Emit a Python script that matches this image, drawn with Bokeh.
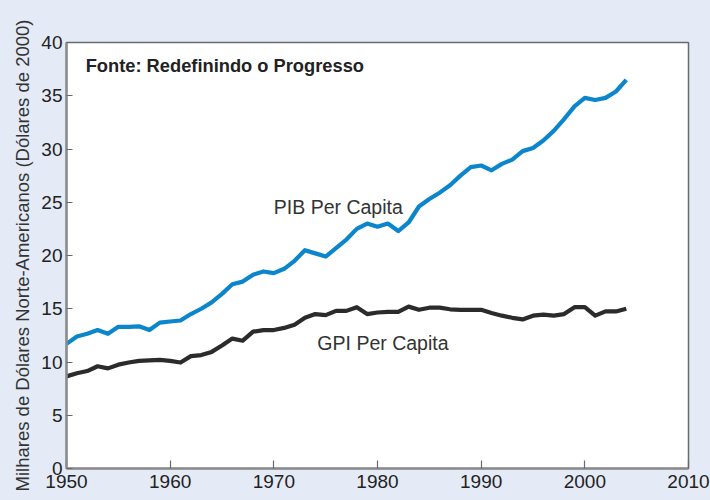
from bokeh.plotting import figure
from bokeh.models import FixedTicker, Label, GlobalInlineStyleSheet
from bokeh.embed import file_html
from bokeh.resources import INLINE

years = list(range(1950, 2005))
pib = [11.7, 12.4, 12.65, 13.0, 12.65, 13.3, 13.3, 13.35, 13.0, 13.7,
       13.8, 13.9, 14.5, 15.0, 15.6, 16.4, 17.3, 17.55, 18.2, 18.5,
       18.35, 18.75, 19.5, 20.5, 20.2, 19.9, 20.7, 21.5, 22.5, 23.0,
       22.7, 23.0, 22.3, 23.1, 24.6, 25.3, 25.9, 26.6, 27.5, 28.3,
       28.45, 28.0, 28.6, 29.0, 29.8, 30.1, 30.8, 31.7, 32.8, 34.0,
       34.8, 34.6, 34.8, 35.4, 36.5]
gpi = [8.65, 8.95, 9.15, 9.6, 9.4, 9.75, 9.95, 10.1, 10.15, 10.2,
       10.1, 9.95, 10.55, 10.65, 10.95, 11.55, 12.2, 12.0, 12.85, 13.0,
       13.0, 13.2, 13.5, 14.15, 14.5, 14.4, 14.8, 14.8, 15.15, 14.5,
       14.65, 14.7, 14.7, 15.2, 14.9, 15.1, 15.1, 14.95, 14.9, 14.9,
       14.9, 14.6, 14.35, 14.15, 14.0, 14.35, 14.45, 14.35, 14.5, 15.15,
       15.15, 14.35, 14.75, 14.75, 15.0]

x_ticks = [1950, 1960, 1970, 1980, 1990, 2000, 2010]
y_ticks = [0, 5, 10, 15, 20, 25, 30, 35, 40]

series_labels = ["PIB Per Capita", "GPI Per Capita"]
label_x = [1970.0, 1974.2]
label_y = [24.6, 11.75]
source_text = "Fonte: Redefinindo o Progresso"
y_title = "Milhares de Dólares Norte-Americanos (Dólares de 2000)"

BG = "#E5EBF6"
BLUE = "#0B86CC"
DARK = "#2B2B2B"

css = GlobalInlineStyleSheet(css=f"html, body {{ margin: 0; padding: 0; background: {BG}; overflow: hidden; }}")

p = figure(width=710, height=500, output_backend="svg", toolbar_location=None,
           x_range=(1950, 2010), y_range=(0, 40),
           min_border_left=66, min_border_top=42, min_border_right=22, min_border_bottom=32)
p.stylesheets = [css]
p.background_fill_color = "white"
p.border_fill_color = BG
p.outline_line_color = "#6A6A6A"
p.outline_line_width = 1.5
p.grid.visible = False

p.line(years, pib, line_color=BLUE, line_width=4.2, line_join="round")
p.line(years, gpi, line_color=DARK, line_width=4.2, line_join="round")

for t, lx, ly in zip(series_labels, label_x, label_y):
    p.add_layout(Label(x=lx, y=ly, text=t, text_font="Liberation Sans",
                       text_font_size="19.5px", text_color="#333333",
                       text_baseline="alphabetic", text_align="left"))

p.add_layout(Label(x=1951.85, y=37.85, text=source_text, text_font="Liberation Sans",
                   text_font_style="bold", text_font_size="18.3px", text_color="#222222",
                   text_baseline="alphabetic", text_align="left"))

p.xaxis.ticker = FixedTicker(ticks=x_ticks)
p.yaxis.ticker = FixedTicker(ticks=y_ticks)
for ax in (p.xaxis[0], p.yaxis[0]):
    ax.axis_line_color = "#8C8C8C"
    ax.axis_line_width = 2.5
    ax.major_tick_line_color = "#6A6A6A"
    ax.major_tick_line_width = 1.2
    ax.major_tick_out = 0
    ax.minor_tick_in = 0
    ax.minor_tick_out = 0
    ax.major_label_text_font = "Liberation Sans"
    ax.major_label_text_font_size = "19px"
    ax.major_label_text_color = "#222222"
p.xaxis.major_tick_in = 8
p.yaxis.major_tick_in = 6
p.xaxis.major_label_standoff = 6
p.yaxis.major_label_standoff = 4

p.yaxis.axis_label = y_title
p.yaxis.axis_label_text_font = "Liberation Sans"
p.yaxis.axis_label_text_font_style = "normal"
p.yaxis.axis_label_text_font_size = "18.5px"
p.yaxis.axis_label_text_color = "#333333"
p.yaxis.axis_label_standoff = 5

open("out.html", "w").write(file_html(p, INLINE))
